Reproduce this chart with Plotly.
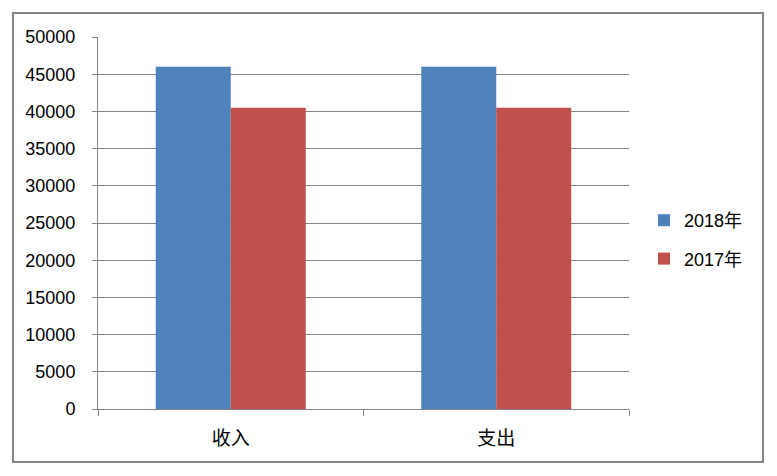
import plotly.graph_objects as go

categories = ["收入", "支出"]
series_names = ["2018年", "2017年"]
values_2018 = [46000, 46000]
values_2017 = [40500, 40500]
colors = ["#4F81BD", "#C0504D"]

FONT = "Liberation Sans, Noto Sans CJK SC, sans-serif"
GRAY = "#868686"

fig = go.Figure()
fig.add_trace(go.Bar(x=categories, y=values_2018, name=series_names[0],
                     marker=dict(color=colors[0], line=dict(width=0)), legendgroup="a"))
fig.add_trace(go.Bar(x=categories, y=values_2017, name=series_names[1],
                     marker=dict(color=colors[1], line=dict(width=0)), legendgroup="b"))

# page body has an 8px margin; work in figure coordinates = screen - 8
OFF = 8
W, H = 777 - 2 * OFF, 476 - 2 * OFF
l, t = 98 - OFF, 37 - OFF
pw, ph = 531, 372
r, b = W - l - pw, H - t - ph

def px(x):
    return (x - OFF - l) / pw

def py(y):
    return (t + ph - (y - OFF)) / ph

fig.add_shape(type="rect", xref="paper", yref="paper",
              x0=px(13), x1=px(763), y0=py(462), y1=py(13),
              line=dict(color=GRAY, width=2), fillcolor="rgba(0,0,0,0)", layer="below")

fig.update_layout(
    width=W, height=H,
    margin=dict(l=l, r=r, t=t, b=b, autoexpand=False),
    paper_bgcolor="white", plot_bgcolor="white",
    barmode="group", bargap=0.435, bargroupgap=0,
    font=dict(family=FONT, size=18, color="#000000"),
    showlegend=True,
    legend=dict(x=px(644), y=py(202), xanchor="left", yanchor="top",
                traceorder="grouped", tracegroupgap=12,
                font=dict(size=18, family=FONT), bgcolor="rgba(0,0,0,0)",
                itemwidth=30),
    xaxis=dict(showline=True, linecolor=GRAY, linewidth=1, ticks="outside",
               tickson="boundaries", ticklen=6, tickcolor=GRAY,
               showgrid=False, tickfont=dict(size=19, family=FONT),
               ticklabelstandoff=12, fixedrange=True, automargin=False),
    yaxis=dict(range=[0, 50000], dtick=5000, showline=True, linecolor=GRAY, linewidth=1,
               ticks="outside", ticklen=5, tickcolor=GRAY,
               showgrid=True, gridcolor=GRAY, gridwidth=1, zeroline=False,
               tickformat="d", tickfont=dict(size=18, family=FONT),
               ticklabelstandoff=13, fixedrange=True, automargin=False),
)

fig.write_html("out.html")
